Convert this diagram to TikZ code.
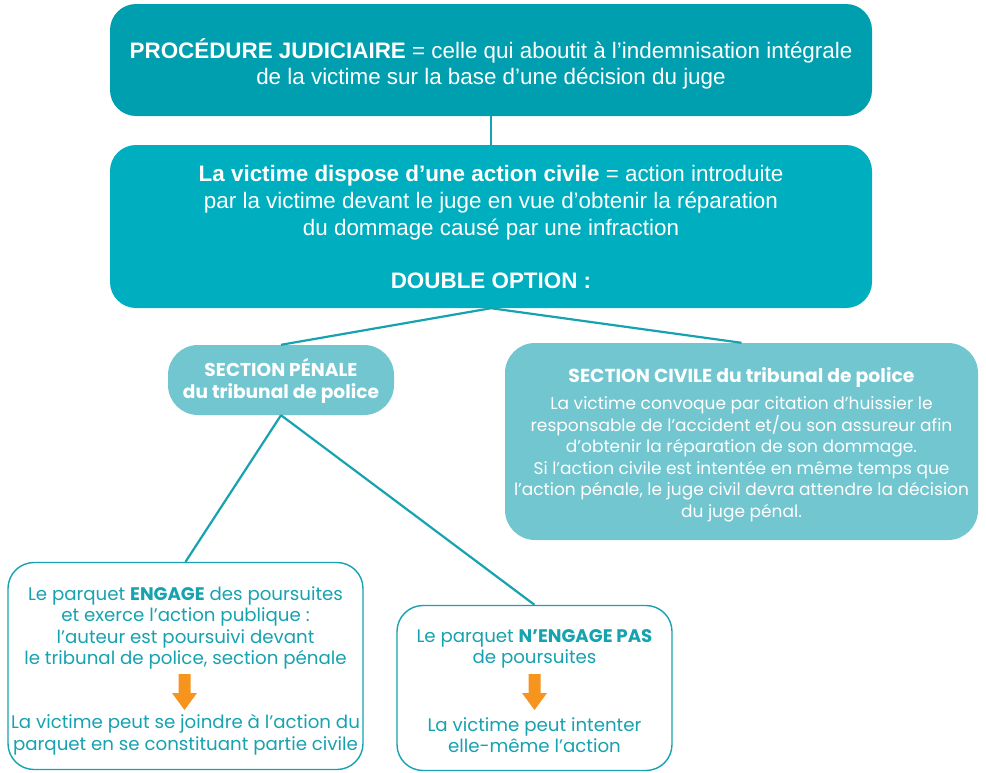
\documentclass[tikz,border=0pt]{standalone}
\usepackage{fontspec}
\setmainfont{Liberation Sans}
\newfontfamily\geo{Poppins}
\definecolor{tealA}{HTML}{009FAF}
\definecolor{tealB}{HTML}{00AFBF}
\definecolor{tealC}{HTML}{71C6D0}
\definecolor{tealL}{HTML}{17A2B0}
\definecolor{orangeA}{HTML}{F7941D}
\tikzset{
  bigbox/.style={rounded corners=26pt, text=white, align=center, inner sep=0pt},
  secbox/.style={rounded corners=30pt, fill=tealC, text=white, align=center, inner sep=0pt, font=\geo},
  outbox/.style={rounded corners=26pt, draw=tealL, line width=1.4pt, fill=white, text=tealL, align=center, inner sep=0pt, font=\geo},
  link/.style={draw=tealL, line width=2.2pt},
  downarrow/.style={fill=orangeA},
  bodytxt/.style={text=tealL, align=center, font=\geo\fontsize{18.2}{21.6}\selectfont}
}
\begin{document}
\begin{tikzpicture}[x=1pt,y=-1pt]
\useasboundingbox (0,0) rectangle (986,772);
% nodes
\node[bigbox, fill=tealA, minimum width=762pt, minimum height=112pt] (top) at (491,60) {};
\node[bigbox, fill=tealB, minimum width=762pt, minimum height=163pt] (mid) at (491,226.5) {};
\node[secbox, minimum width=226pt, minimum height=70pt] (pen) at (281,380) {};
\node[secbox, minimum width=473pt, minimum height=197pt] (civ) at (741.5,441.5) {};
\node[outbox, minimum width=355pt, minimum height=207pt] (eng) at (185.5,666) {};
\node[outbox, minimum width=275pt, minimum height=165pt] (neng) at (534.5,688) {};
% connectors
\draw[link] (top.south) -- (mid.north);
\draw[link] (mid.south) -- (pen.north);
\draw[link] (mid.south) -- (civ.north);
\draw[link] (pen.south) -- (eng.north);
\draw[link] (pen.south) -- (neng.north);
% texts
\node[text=white, align=center, font=\fontsize{22.4}{26}\selectfont] (t1) at (491,64)
  {\textbf{PROCÉDURE JUDICIAIRE} = celle qui aboutit à l’indemnisation intégrale\\
   de la victime sur la base d’une décision du juge};
\node[text=white, align=center, font=\fontsize{22.4}{26.8}\selectfont] (t2) at (491,227)
  {\textbf{La victime dispose d’une action civile} = action introduite\\
   par la victime devant le juge en vue d’obtenir la réparation\\
   du dommage causé par une infraction\\[26.8pt]
   \textbf{DOUBLE OPTION :}};
\node[text=white, align=center, font=\geo\bfseries\fontsize{18.6}{22}\selectfont] (t3) at (281,381)
  {SECTION PÉNALE\\du tribunal de police};
\node[text=white, align=center, font=\geo\fontsize{17}{21.6}\selectfont] (t4) at (741.5,445)
  {{\fontsize{18.8}{21.6}\selectfont\textbf{SECTION CIVILE du tribunal de police}}\\[5pt]
   La victime convoque par citation d’huissier le\\
   responsable de l’accident et/ou son assureur afin\\
   d’obtenir la réparation de son dommage.\\
   Si l’action civile est intentée en même temps que\\
   l’action pénale, le juge civil devra attendre la décision\\
   du juge pénal.};
\node[bodytxt] (t5) at (185.5,628)
  {Le parquet \textbf{ENGAGE} des poursuites\\
   et exerce l’action publique :\\
   l’auteur est poursuivi devant\\
   le tribunal de police, section pénale};
\node[bodytxt] (t6) at (185.5,735)
  {La victime peut se joindre à l’action du\\
   parquet en se constituant partie civile};
\node[bodytxt] (t7) at (534.5,649)
  {Le parquet \textbf{N’ENGAGE PAS}\\de poursuites};
\node[bodytxt] (t8) at (534.5,735)
  {La victime peut intenter\\elle-même l’action};
% orange arrows
\fill[downarrow] (178.5,674) -- (190.5,674) -- (190.5,693) -- (197,693) -- (184.5,710) -- (172,693) -- (178.5,693) -- cycle;
\fill[downarrow] (528.5,674) -- (540.5,674) -- (540.5,693) -- (547,693) -- (534.5,710) -- (522,693) -- (528.5,693) -- cycle;
\end{tikzpicture}
\end{document}
